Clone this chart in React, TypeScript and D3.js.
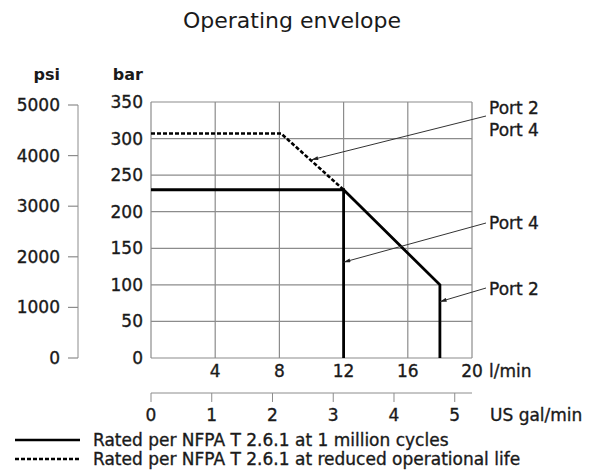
import React from "react";
import * as d3 from "d3";

const lpmTicks = [4, 8, 12, 16, 20];
const barTicks = [0, 50, 100, 150, 200, 250, 300, 350];
const psiTicks = [0, 1000, 2000, 3000, 4000, 5000];
const galTicks = [0, 1, 2, 3, 4, 5];

// flow (l/min), pressure (bar)
const port4Solid = [
  { q: 0, p: 230 },
  { q: 12, p: 230 },
  { q: 12, p: 0 },
];
const port2Solid = [
  { q: 12, p: 230 },
  { q: 18, p: 100 },
  { q: 18, p: 0 },
];
const reducedDashed = [
  { q: 0, p: 307 },
  { q: 8.1, p: 307 },
  { q: 12, p: 230 },
];

const callouts = [
  { lines: ["Port 2", "Port 4"], tip: { q: 10, p: 271 } },
  { lines: ["Port 4"], tip: { q: 12, p: 131 } },
  { lines: ["Port 2"], tip: { q: 18, p: 77 } },
];

const legendItems = [
  { label: "Rated per NFPA T 2.6.1 at 1 million cycles", dashed: false },
  { label: "Rated per NFPA T 2.6.1 at reduced operational life", dashed: true },
];

const W = 601;
const H = 470;
const FONT = "'DejaVu Sans', 'Liberation Sans', Arial, sans-serif";
const LPM_PER_GAL = 3.785;

export default function App() {
  const x = d3.scaleLinear().domain([0, 20]).range([151, 472]);
  const y = d3.scaleLinear().domain([0, 350]).range([358, 102]);
  const yPsi = d3.scaleLinear().domain([0, 5000]).range([358, 105]);
  const xGal = d3.scaleLinear().domain([0, 20 / LPM_PER_GAL]).range([151, 472]);

  const line = d3
    .line<{ q: number; p: number }>()
    .x((d) => x(d.q))
    .y((d) => y(d.p));

  const gridX = [0, ...lpmTicks];
  const grey = "#8c8c8c";
  const textCol = "#1a1a1a";
  const labelX = 489;
  const calloutBase = [114, 229, 295];
  const calloutStart = [
    { x: 486, y: 116 },
    { x: 486, y: 223 },
    { x: 486, y: 288 },
  ];
  const tp = { fill: textCol, stroke: textCol, strokeWidth: 0.35 };

  return (
    <svg
      width={W}
      height={H}
      style={{ position: "absolute", left: 0, top: 0, background: "#fff" }}
      fontFamily={FONT}
    >
      <defs>
        <marker
          id="arr"
          viewBox="0 0 10 6"
          refX="10"
          refY="3"
          markerWidth="10"
          markerHeight="4"
          markerUnits="userSpaceOnUse"
          orient="auto"
        >
          <path d="M0,0 L10,3 L0,6 Z" fill="#222" />
        </marker>
      </defs>

      <text x={292} y={28} textAnchor="middle" fontSize={22} fill={textCol}>
        Operating envelope
      </text>

      {/* grid */}
      {gridX.map((v) => (
        <line key={"gx" + v} x1={x(v)} x2={x(v)} y1={y(0)} y2={y(350)} stroke={grey} strokeWidth={1.2} />
      ))}
      {barTicks.map((v) => (
        <line key={"gy" + v} x1={x(0)} x2={x(20)} y1={y(v)} y2={y(v)} stroke={grey} strokeWidth={1.2} />
      ))}

      {/* bar labels */}
      <text x={143} y={80} textAnchor="end" fontSize={16} fontWeight="bold" fill={textCol}>
        bar
      </text>
      {barTicks.map((v) => (
        <text key={"bl" + v} x={143} y={y(v) + 6} textAnchor="end" fontSize={17} {...tp}>
          {v}
        </text>
      ))}

      {/* psi axis */}
      <text x={60} y={80} textAnchor="end" fontSize={16} fontWeight="bold" fill={textCol}>
        psi
      </text>
      <line x1={78} x2={78} y1={yPsi(0)} y2={yPsi(5000)} stroke={grey} strokeWidth={1} />
      {psiTicks.map((v) => (
        <g key={"p" + v}>
          <line x1={68} x2={78} y1={yPsi(v)} y2={yPsi(v)} stroke={grey} strokeWidth={1.2} />
          <text x={60} y={yPsi(v) + 6} textAnchor="end" fontSize={17} {...tp}>
            {v}
          </text>
        </g>
      ))}

      {/* l/min labels */}
      {lpmTicks.map((v) => (
        <text key={"xl" + v} x={x(v)} y={377} textAnchor="middle" fontSize={17} {...tp}>
          {v}
        </text>
      ))}
      <text x={489} y={377} fontSize={17} {...tp}>
        l/min
      </text>

      {/* gal axis */}
      <line x1={xGal(0)} x2={x(20)} y1={393} y2={393} stroke={grey} strokeWidth={1} />
      {galTicks.map((v) => (
        <g key={"g" + v}>
          <line x1={xGal(v)} x2={xGal(v)} y1={393} y2={402} stroke={grey} strokeWidth={1} />
          <text x={xGal(v)} y={421} textAnchor="middle" fontSize={17} {...tp}>
            {v}
          </text>
        </g>
      ))}
      <text x={490} y={421} fontSize={17} {...tp}>
        US gal/min
      </text>

      {/* data lines */}
      <path d={line(reducedDashed) || ""} fill="none" stroke="#000" strokeWidth={2.6} strokeDasharray="4 2" />
      <path d={line(port4Solid) || ""} fill="none" stroke="#000" strokeWidth={2.8} />
      <path d={line(port2Solid) || ""} fill="none" stroke="#000" strokeWidth={2.8} />

      {/* callouts */}
      {callouts.map((c, i) => (
        <g key={"c" + i}>
          <line
            x1={calloutStart[i].x}
            y1={calloutStart[i].y}
            x2={x(c.tip.q)}
            y2={y(c.tip.p)}
            stroke="#333"
            strokeWidth={1}
            markerEnd="url(#arr)"
          />
          {c.lines.map((t, j) => (
            <text key={j} x={labelX} y={calloutBase[i] + j * 22} fontSize={17} {...tp}>
              {t}
            </text>
          ))}
        </g>
      ))}

      {/* legend */}
      {legendItems.map((it, i) => (
        <g key={"lg" + i}>
          <line
            x1={15}
            x2={80}
            y1={440 + i * 19}
            y2={440 + i * 19}
            stroke="#000"
            strokeWidth={2.6}
            strokeDasharray={it.dashed ? "4 2" : undefined}
          />
          <text x={93} y={446 + i * 19} fontSize={17} {...tp}>
            {it.label}
          </text>
        </g>
      ))}
    </svg>
  );
}
